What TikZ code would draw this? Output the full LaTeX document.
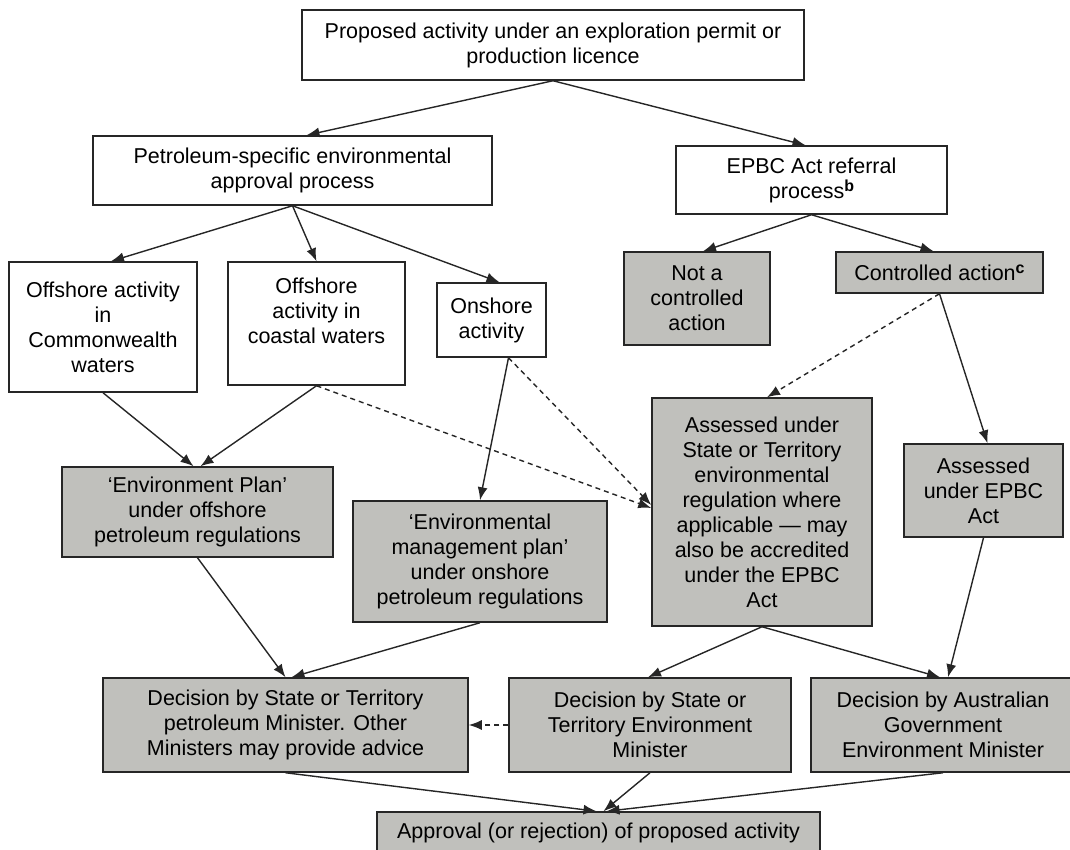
\documentclass[tikz,border=0pt]{standalone}
\usepackage{fontspec}
\setmainfont{Liberation Sans}
\usetikzlibrary{arrows.meta}
\definecolor{boxgray}{RGB}{192,192,188}
\newcommand{\supmark}[1]{\raisebox{7pt}{\fontsize{16}{16}\selectfont\bfseries #1}}
\begin{document}
\begin{tikzpicture}[x=1pt,y=-1pt,
  txt/.style={font=\fontsize{21.5}{25}\selectfont, align=center, inner sep=0pt},
  wbox/.style={draw=black!85, line width=1.5pt, fill=white, txt},
  gbox/.style={wbox, fill=boxgray},
  conn/.style={draw=black!85, line width=1.4pt, -{Latex[length=13pt,width=10pt]}},
  dconn/.style={conn, dash pattern=on 5pt off 4pt},
]
\useasboundingbox (0,0) rectangle (1070,850);
\clip (0,0) rectangle (1070,850);

\node[wbox, minimum width=502, minimum height=70] (top) at (553,45) {Proposed activity under an exploration permit or\\production licence};
\node[wbox, minimum width=399, minimum height=69] (petro) at (292.5,170.5) {Petroleum-specific environmental\\approval process};
\node[wbox, minimum width=271, minimum height=68] (epbc) at (811.5,180) {EPBC Act referral\\process\supmark{b}};
\node[gbox, minimum width=146, minimum height=93] (notc) at (697,298.5) {Not a\\controlled\\action};
\node[gbox, minimum width=207, minimum height=41] (ctrl) at (939.5,272.5) {Controlled action\supmark{c}};
\node[wbox, minimum width=188, minimum height=130] (cw) at (103,327) {Offshore activity\\in\\Commonwealth\\waters};
\node[wbox, minimum width=177, minimum height=123] (coast) at (316.5,323.5) {};
\node[txt, anchor=north] (coasttxt) at (316.5,278) {Offshore\\activity in\\coastal waters};
\node[wbox, minimum width=109, minimum height=74] (on) at (491.5,320) {Onshore\\activity};
\node[gbox, minimum width=271, minimum height=90] (eplan) at (197.5,512) {‘Environment Plan’\\under offshore\\petroleum regulations};
\node[gbox, minimum width=254, minimum height=121] (emp) at (480,561.5) {‘Environmental\\management plan’\\under onshore\\petroleum regulations};
\node[gbox, minimum width=220, minimum height=228] (ast) at (762,512) {Assessed under\\State or Territory\\environmental\\regulation where\\applicable — may\\also be accredited\\under the EPBC\\Act};
\node[gbox, minimum width=159, minimum height=93] (aepbc) at (983.5,490.5) {Assessed\\under EPBC\\Act};
\node[gbox, minimum width=365, minimum height=94] (decp) at (285.5,725) {Decision by State or Territory\\petroleum Minister. Other\\Ministers may provide advice};
\node[gbox, minimum width=282, minimum height=94] (decs) at (650,725) {Decision by State or\\Territory Environment\\Minister};
\node[gbox, minimum width=264, minimum height=94] (deca) at (943,725) {Decision by Australian\\Government\\Environment Minister};
\node[gbox, minimum width=443, minimum height=42] (appr) at (598.5,833) {Approval (or rejection) of proposed activity};

\draw[conn] (top.south) -- ([xshift=14pt]petro.north);
\draw[conn] (top.south) -- ([xshift=-6pt]epbc.north);
\draw[conn] (petro.south) -- ([xshift=8pt]cw.north);
\draw[conn] (petro.south) -- (coast.north);
\draw[conn] (petro.south) -- ([xshift=8pt]on.north);
\draw[conn] (epbc.south) -- ([xshift=6pt]notc.north);
\draw[conn] (epbc.south) -- ([xshift=-6pt]ctrl.north);
\draw[conn] (ctrl.south) -- ([xshift=4pt]aepbc.north);
\draw[dconn] (ctrl.south) -- ([xshift=5pt]ast.north);
\draw[conn] (cw.south) -- ([xshift=-4pt]eplan.north);
\draw[conn] (coast.south) -- ([xshift=3pt]eplan.north);
\draw[dconn] (coast.south) -- ([yshift=4pt]ast.west);
\draw[conn] ([xshift=17pt]on.south) -- (emp.north);
\draw[dconn] ([xshift=17pt]on.south) -- ([yshift=7pt]ast.west);
\draw[conn] (eplan.south) -- (decp.north);
\draw[conn] (emp.south) -- ([xshift=6pt]decp.north);
\draw[conn] (ast.south) -- ([xshift=-2pt]decs.north);
\draw[conn] (ast.south) -- ([xshift=-3pt]deca.north);
\draw[conn] (aepbc.south) -- ([xshift=5pt]deca.north);
\draw[dconn] (decs.west) -- (decp.east);
\draw[conn] (decp.south) -- ([xshift=-2pt]appr.north);
\draw[conn] (decs.south) -- ([xshift=5pt]appr.north);
\draw[conn] (deca.south) -- ([xshift=8pt]appr.north);
\end{tikzpicture}
\end{document}
